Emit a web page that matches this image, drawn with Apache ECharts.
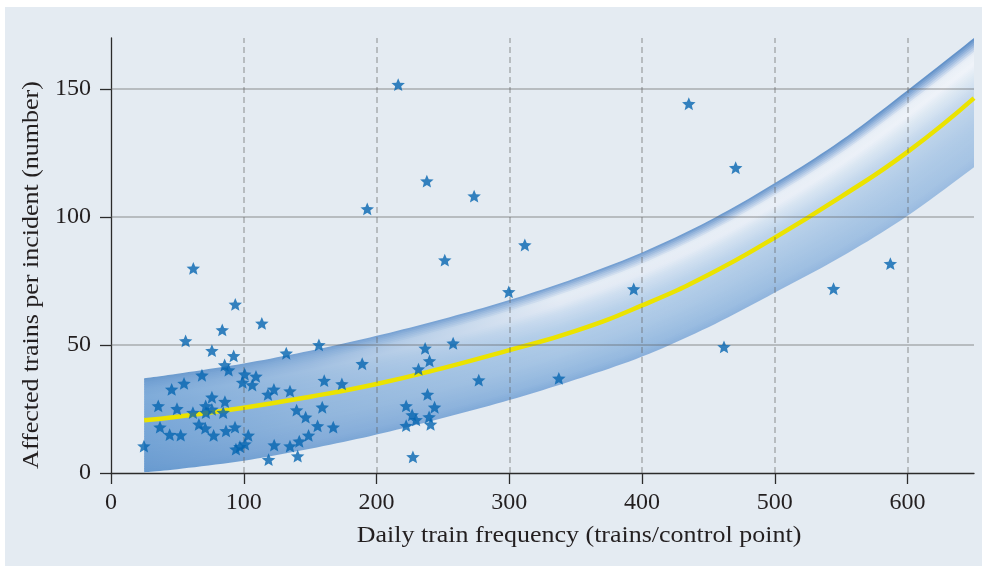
<!DOCTYPE html>
<html><head><meta charset="utf-8">
<script src="https://cdn.jsdelivr.net/npm/echarts@6/dist/echarts.min.js"></script>
<style>
html,body{margin:0;padding:0;background:#fff}
#panel{position:absolute;left:5px;top:7px;width:977px;height:559px;background:#e4ebf2}
#c{position:absolute;left:0;top:0;width:982px;height:570px}
</style>
</head><body><div id="panel"></div><div id="c"></div><script>
// ---- data ----
const xTicks = [0, 100, 200, 300, 400, 500, 600];
const yTicks = [0, 50, 100, 150];
const curveX = [25, 50, 100, 150, 200, 250, 300, 350, 400, 450, 500, 550, 600, 650];
const fitY   = [20.6, 22, 25.5, 29.8, 34.8, 41, 48, 55.5, 65.5, 77.5, 92, 108, 125.5, 146.5];
const bandLow  = [0.3, 1.5, 4.8, 9.5, 15, 21.5, 28.5, 36.5, 45.5, 57, 70.5, 84.5, 100.5, 119.5];
const bandHigh = [37, 38.8, 42.8, 47.8, 53.6, 60.2, 67.6, 76.2, 86.2, 98.5, 113.3, 130, 149.6, 170];
const freqX = [24.8,35.6,36.9,44.2,45.7,49.7,52.5,55.0,56.2,62.0,61.7,66.2,68.5,71.0,71.3,71.5,76.0,76.0,76.0,77.3,
  83.8,84.5,85.6,85.8,86.6,88.6,92.4,93.4,93.6,94.1,97.1,99.1,100.7,100.9,103.4,106.4,109.2,113.6,118.2,118.7,
  122.7,122.9,132.0,134.8,134.8,139.8,140.6,141.8,146.6,148.8,155.6,156.6,159.1,160.6,167.4,173.9,189.2,193.0,216.3,222.3,
  222.3,226.8,227.4,229.8,231.6,236.6,237.9,238.4,239.6,239.9,240.7,243.7,251.4,257.7,273.5,277.0,299.6,311.7,337.3,393.7,
  435.2,461.7,470.5,544.2,587.0];
const affectedY = [10.5,26.2,17.9,15.0,32.7,25.1,14.8,35.0,51.6,80.0,23.6,19.0,38.2,17.5,26.2,23.6,47.8,29.6,24.9,14.7,
  55.9,23.6,42.2,27.9,16.5,40.2,45.8,17.9,65.9,9.3,10.3,35.4,38.6,11.3,14.7,34.4,37.8,58.5,30.7,5.2,
  32.7,10.9,46.8,32.0,10.5,24.6,6.6,12.4,21.8,14.7,18.4,50.1,25.7,36.1,17.9,34.8,42.7,103.2,151.8,26.2,
  18.5,22.7,6.3,20.8,40.6,48.7,114.1,30.7,21.9,43.8,19.0,25.7,83.2,50.7,108.2,36.3,70.8,89.1,37.0,71.9,
  144.3,49.3,119.3,72.0,81.8];

// ---- band shading (style) ----
const shadeT = [0, 0.08, 0.3, 0.55, 0.7, 0.8, 0.88, 0.95, 1];
const shadeAnchors = [
  {off: 0.0,  c: ['#689acf','#6c9dd1','#73a3d5','#79a7d8','#7ca9d8','#7eabd9','#7ba8d7','#73a1d3','#6898cc']},
  {off: 0.2,  c: ['#7aa5d5','#84acd9','#90b5dc','#97badf','#9cbde0','#a1c0e1','#98b9de','#88aed9','#77a2d3']},
  {off: 0.5,  c: ['#84acd9','#93b8df','#a8c6e5','#b5cfe9','#cbdcef','#e2eaf4','#e6edf5','#a7c1e1','#6e9bd0']},
  {off: 1.0,  c: ['#9dbde1','#a6c4e4','#b0cbe7','#c3d7ec','#dde8f3','#f0f4f9','#e9eff7','#8fb0da','#5a8bc5']}
];
function hex2rgb(h){return [parseInt(h.substr(1,2),16),parseInt(h.substr(3,2),16),parseInt(h.substr(5,2),16)];}
function colorAt(cols, t){
  for(let i=0;i<shadeT.length-1;i++){
    if(t<=shadeT[i+1]){
      const f=(t-shadeT[i])/(shadeT[i+1]-shadeT[i]);
      const a=hex2rgb(cols[i]), b=hex2rgb(cols[i+1]);
      return 'rgb('+a.map((v,j)=>Math.round(v+(b[j]-v)*f)).join(',')+')';
    }
  }
  return cols[cols.length-1];
}
// Catmull-Rom smoothing of a pixel polyline (rendering only)
function smoothPx(p){
  const out=[]; const n=p.length; const S=10;
  for(let i=0;i<n-1;i++){
    const p0=p[Math.max(0,i-1)], p1=p[i], p2=p[i+1], p3=p[Math.min(n-1,i+2)];
    for(let s=0;s<S;s++){
      const t=s/S, t2=t*t, t3=t2*t;
      out.push([0,1].map(j=>0.5*((2*p1[j])+(-p0[j]+p2[j])*t+(2*p0[j]-5*p1[j]+4*p2[j]-p3[j])*t2+(-p0[j]+3*p1[j]-3*p2[j]+p3[j])*t3)));
    }
  }
  out.push(p[n-1].slice());
  return out;
}

const FONT = '"Liberation Serif", "Times New Roman", serif';
const TXT = '#231f20';
const chart = echarts.init(document.getElementById('c'), null, {renderer:'canvas'});

const option = {
  backgroundColor: 'transparent',
  animation: false,
  grid: {left: 111, right: 8, top: 38, bottom: 97},
  xAxis: {
    type: 'value', min: 0, max: 650, interval: 100,
    axisLine: {lineStyle: {color: '#2b2b2b', width: 1.3}},
    axisTick: {length: 11, customValues: xTicks, lineStyle: {color: '#2b2b2b', width: 1.3}},
    axisLabel: {customValues: xTicks, margin: 18, fontSize: 24, fontFamily: FONT, color: TXT},
    splitLine: {show: false}
  },
  yAxis: {
    type: 'value', min: 0, max: 170, interval: 50,
    axisLine: {show: true, lineStyle: {color: '#2b2b2b', width: 1.3}},
    axisTick: {show: true, length: 11, customValues: yTicks, lineStyle: {color: '#2b2b2b', width: 1.3}},
    axisLabel: {customValues: yTicks, margin: 20, fontSize: 24, fontFamily: FONT, color: TXT},
    splitLine: {show: false}
  },
  graphic: [
    {type: 'text', x: 579, y: 535.5, scaleX: 1.13,
     style: {text: 'Daily train frequency (trains/control point)', font: '23px ' + FONT, fill: TXT,
             textAlign: 'center', textVerticalAlign: 'middle', align: 'center', verticalAlign: 'middle'}},
    {type: 'text', x: 32, y: 275, rotation: Math.PI / 2, scaleX: 1.13,
     style: {text: 'Affected trains per incident (number)', font: '23px ' + FONT, fill: TXT,
             textAlign: 'center', textVerticalAlign: 'middle', align: 'center', verticalAlign: 'middle'}}
  ],
  series: [
    {
      type: 'custom', z: 2, silent: true, clip: true,
      data: [[0]],
      renderItem: function(params, api){
        const lowPx = smoothPx(curveX.map((x,i)=>api.coord([x, bandLow[i]])));
        const highPx = smoothPx(curveX.map((x,i)=>api.coord([x, bandHigh[i]])));
        const N = 56, children = [];
        for(let k=0;k<N;k++){
          const t0 = k/N, t1 = Math.min(1, (k+1)/N + 0.01), tc = (k+0.5)/N;
          const pts = [];
          for(let i=0;i<lowPx.length;i++) pts.push([lowPx[i][0], lowPx[i][1] + (highPx[i][1]-lowPx[i][1])*t0]);
          for(let i=lowPx.length-1;i>=0;i--) pts.push([highPx[i][0], lowPx[i][1] + (highPx[i][1]-lowPx[i][1])*t1]);
          const stops = shadeAnchors.map(a=>({offset: a.off, color: colorAt(a.c, tc)}));
          children.push({type: 'polygon', shape: {points: pts},
            style: {fill: new echarts.graphic.LinearGradient(0,0,1,0,stops), stroke: null}});
        }
        return {type: 'group', children: children};
      }
    },
    {
      type: 'line', z: 3, data: [], silent: true,
      markLine: {
        silent: true, symbol: 'none', animation: false, label: {show: false},
        data: [
          ...xTicks.slice(1).map(v=>({xAxis: v, lineStyle: {color: 'rgba(95,95,95,0.45)', width: 1.5, type: [6,4]}})),
          ...yTicks.slice(1).map(v=>({yAxis: v, lineStyle: {color: 'rgba(95,95,95,0.45)', width: 1.5, type: 'solid'}}))
        ]
      }
    },
    {
      type: 'line', z: 4, smooth: true, showSymbol: false, silent: true,
      data: curveX.map((x,i)=>[x, fitY[i]]),
      lineStyle: {color: '#ebe300', width: 4.5}
    },
    {
      type: 'scatter', z: 5, silent: true,
      symbol: 'path://M10,0 L12.645,6.36 L19.51,6.91 L14.28,11.39 L15.88,18.09 L10,14.5 L4.12,18.09 L5.72,11.39 L0.49,6.91 L7.355,6.36 Z',
      symbolSize: [13.5, 12.8],
      itemStyle: {color: '#0565b0'},
      data: freqX.map((x,i)=>[x, affectedY[i]])
    }
  ]
};
chart.setOption(option);
</script></body></html>
